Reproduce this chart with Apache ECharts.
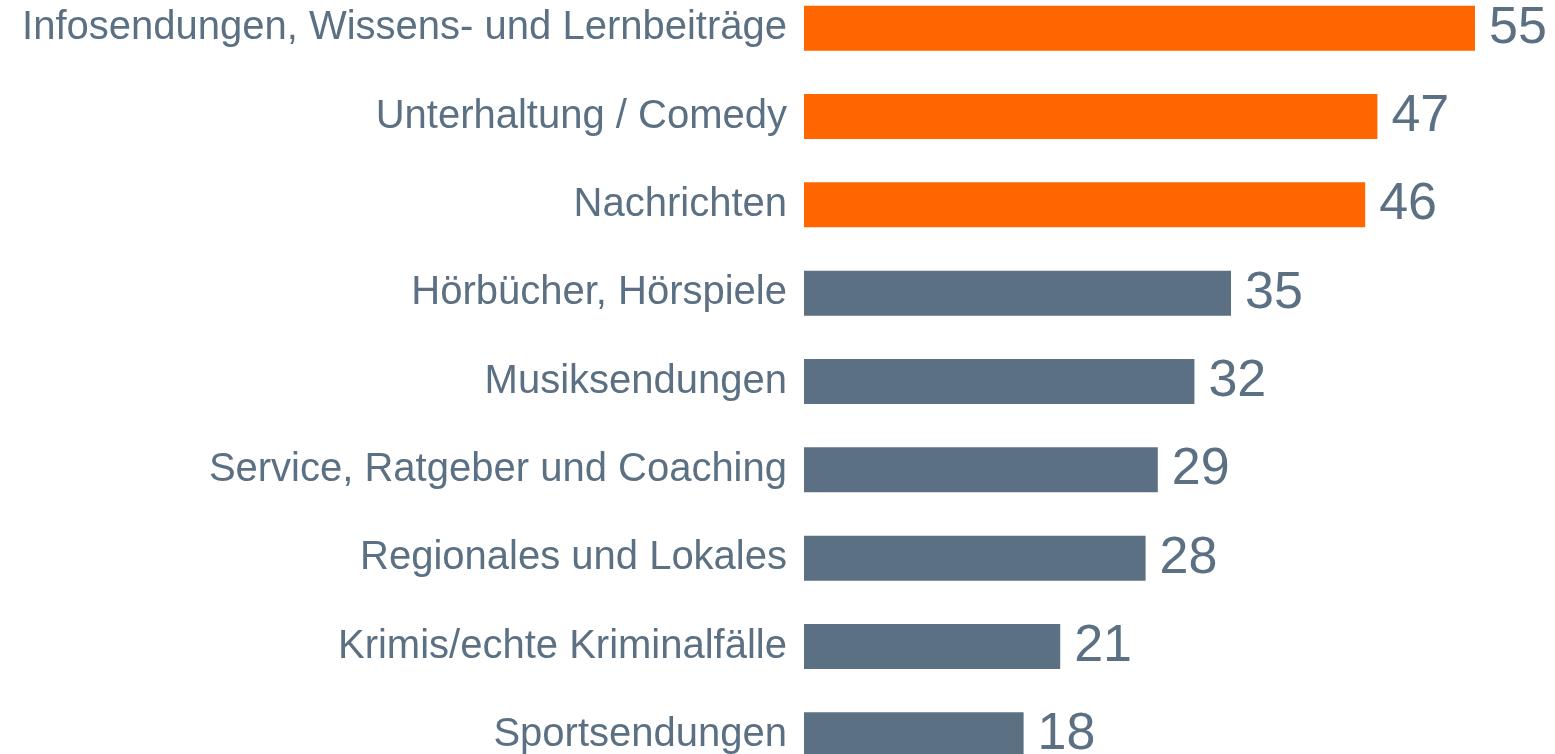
<!DOCTYPE html>
<html>
<head>
<meta charset="utf-8">
<script src="https://cdn.jsdelivr.net/npm/echarts@6/dist/echarts.min.js"></script>
<style>
  html, body { margin: 0; padding: 0; background: #fff; overflow: hidden; }
  /* die unterste Zeile ist im Original angeschnitten, daher nach oben verschoben */
  #main { width: 1555px; height: 800px; margin-top: -16px; }
</style>
</head>
<body>
<div id="main"></div>
<script>
// Kategorien (von oben nach unten)
var categories = [
  'Infosendungen, Wissens- und Lernbeiträge',
  'Unterhaltung / Comedy',
  'Nachrichten',
  'Hörbücher, Hörspiele',
  'Musiksendungen',
  'Service, Ratgeber und Coaching',
  'Regionales und Lokales',
  'Krimis/echte Kriminalfälle',
  'Sportsendungen'
]
// Werte in Prozent
var values = [55, 47, 46, 35, 32, 29, 28, 21, 18]
// die ersten drei sind hervorgehoben
var highlighted = [true, true, true, false, false, false, false, false, false]

var orange = '#FF6600'
var slate = '#5B7083'

var myChart = echarts.init(document.getElementById('main'))

var option = {
  backgroundColor: '#fff',
  animation: false,
  grid: {
    left: 804,
    width: 732,
    top: 0,
    height: 795,
    containLabel: false
  },
  xAxis: {
    type: 'value',
    min: 0,
    max: 60,
    show: false
  },
  yAxis: {
    type: 'category',
    inverse: true,
    data: categories,
    axisLine: { show: false },
    axisTick: { show: false },
    axisLabel: {
      margin: 17,
      fontFamily: 'Liberation Sans, Arial, sans-serif',
      fontSize: 40,
      color: slate
    }
  },
  series: [{
    type: 'bar',
    barWidth: 45,
    data: values.map(function (v, i) {
      return { value: v, itemStyle: { color: highlighted[i] ? orange : slate } }
    }),
    label: {
      show: true,
      position: 'right',
      distance: 14,
      fontFamily: 'Liberation Sans, Arial, sans-serif',
      fontSize: 52,
      color: slate
    }
  }]
}

myChart.setOption(option)
</script>
</body>
</html>
